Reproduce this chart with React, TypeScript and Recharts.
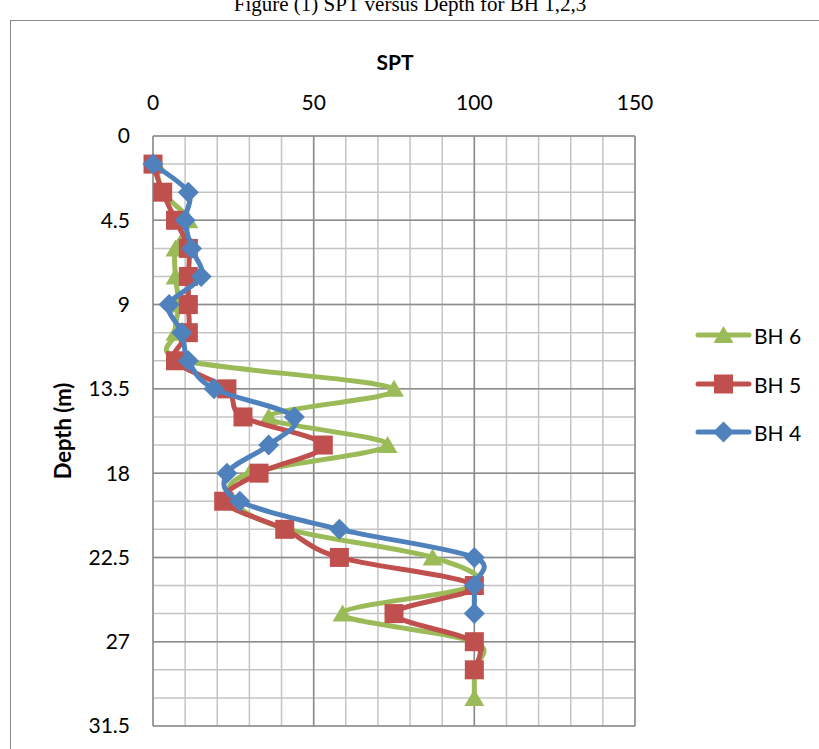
import React from "react";
import { ScatterChart, Scatter, XAxis, YAxis, CartesianGrid } from "recharts";

// depth (m) of each SPT reading
const depths = [1.5, 3, 4.5, 6, 7.5, 9, 10.5, 12, 13.5, 15, 16.5, 18, 19.5, 21, 22.5, 24, 25.5, 27, 28.5, 30];
const bh6 = [1, 3, 11, 7, 7, 8, 7, 10, 75, 36, 73, 30, 25, 42, 87, 100, 59, 100, 100, 100];
const bh5 = [0, 3, 7, 11, 11, 11, 11, 7, 23, 28, 53, 33, 22, 41, 58, 100, 75, 100, 100, null];
const bh4 = [0, 11, 10, 12, 15, 5, 9, 11, 19, 44, 36, 23, 27, 58, 100, 100, 100, null, null, null];

const sptTicks = [0, 50, 100, 150];
const depthTicks = [0, 4.5, 9, 13.5, 18, 22.5, 27, 31.5];
const sptMinor = [0, 10, 20, 30, 40, 50, 60, 70, 80, 90, 100, 110, 120, 130, 140, 150];
const depthMinor = [0, 1.5, 3, 4.5, 6, 7.5, 9, 10.5, 12, 13.5, 15, 16.5, 18, 19.5, 21, 22.5, 24, 25.5, 27, 28.5, 30, 31.5];

const GREEN = "#9BBB59";
const RED = "#C0504D";
const BLUE = "#4F81BD";
const FONT = "Lato, 'Open Sans', sans-serif";

const toRows = (vals: (number | null)[]) =>
  depths.map((d, i) => ({ depth: d, spt: vals[i] })).filter((r) => r.spt != null);

// excel style smoothed line (catmull-rom)
const excelCurve = (context: any) => {
  let pts: number[][] = [];
  return {
    areaStart() {},
    areaEnd() {},
    lineStart() {
      pts = [];
    },
    lineEnd() {
      if (!pts.length) return;
      context.moveTo(pts[0][0], pts[0][1]);
      for (let i = 0; i < pts.length - 1; i++) {
        const p0 = pts[Math.max(i - 1, 0)];
        const p1 = pts[i];
        const p2 = pts[i + 1];
        const p3 = pts[Math.min(i + 2, pts.length - 1)];
        context.bezierCurveTo(
          p1[0] + (p2[0] - p0[0]) / 6,
          p1[1] + (p2[1] - p0[1]) / 6,
          p2[0] - (p3[0] - p1[0]) / 6,
          p2[1] - (p3[1] - p1[1]) / 6,
          p2[0],
          p2[1]
        );
      }
    },
    point(x: number, y: number) {
      pts.push([+x, +y]);
    },
  };
};

const Triangle = ({ cx, cy }: any) => (
  <path d={`M${cx},${cy - 9}L${cx + 10},${cy + 8}L${cx - 10},${cy + 8}Z`} fill={GREEN} />
);
const Square = ({ cx, cy }: any) => <rect x={cx - 9.5} y={cy - 9.5} width={19} height={19} fill={RED} />;
const Diamond = ({ cx, cy }: any) => (
  <path d={`M${cx},${cy - 10.5}L${cx + 10.5},${cy}L${cx},${cy + 10.5}L${cx - 10.5},${cy}Z`} fill={BLUE} />
);

const legendItems = [
  { name: "BH 6", color: GREEN, Mark: Triangle, top: 323 },
  { name: "BH 5", color: RED, Mark: Square, top: 372 },
  { name: "BH 4", color: BLUE, Mark: Diamond, top: 420 },
];

export default function App() {
  return (
    <div style={{ position: "absolute", left: 0, top: 0, width: 819, height: 749, overflow: "hidden", background: "#fff" }}>
      <div
        style={{
          position: "absolute",
          left: 0,
          width: 820,
          top: -8,
          lineHeight: "24px",
          textAlign: "center",
          fontFamily: "'Liberation Serif', serif",
          fontSize: 21,
          whiteSpace: "nowrap",
        }}
      >
        Figure (1) SPT versus Depth for BH 1,2,3
      </div>
      <div
        style={{
          position: "absolute",
          left: 10,
          top: 20,
          width: 900,
          height: 800,
          borderLeft: "1.5px solid #8a8a8a",
          borderTop: "1.5px solid #8a8a8a",
        }}
      />
      <div style={{ position: "absolute", left: 0, top: 0 }}>
        <ScatterChart width={819} height={749} margin={{ top: 96, left: 93, right: 184, bottom: 23 }}>
          <CartesianGrid
            stroke="#c4c4c4"
            strokeWidth={1.5}
            verticalValues={sptMinor}
            horizontalValues={depthMinor}
          />
          <CartesianGrid
            stroke="#8c8c8c"
            strokeWidth={1.5}
            fill="none"
            verticalValues={sptTicks}
            horizontalValues={depthTicks}
          />
          <XAxis
            type="number"
            dataKey="spt"
            orientation="top"
            domain={[0, 150]}
            ticks={sptTicks}
            height={40}
            axisLine={false}
            tickLine={false}
            tickSize={6}
            tickMargin={20}
            tick={{ fontSize: 21, fill: "#000", fontFamily: FONT }}
          />
          <YAxis
            type="number"
            dataKey="depth"
            reversed
            domain={[0, 31.5]}
            ticks={depthTicks}
            width={60}
            axisLine={false}
            tickLine={false}
            tickSize={6}
            tickMargin={17}
            tick={{ fontSize: 21, fill: "#000", fontFamily: FONT }}
          />
          <Scatter
            data={toRows(bh6)}
            fill={GREEN}
            line={{ strokeWidth: 5, strokeLinejoin: "round", strokeLinecap: "round" }}
            lineJointType={excelCurve as any}
            shape={Triangle}
            isAnimationActive={false}
          />
          <Scatter
            data={toRows(bh5)}
            fill={RED}
            line={{ strokeWidth: 5, strokeLinejoin: "round", strokeLinecap: "round" }}
            lineJointType={excelCurve as any}
            shape={Square}
            isAnimationActive={false}
          />
          <Scatter
            data={toRows(bh4)}
            fill={BLUE}
            line={{ strokeWidth: 5, strokeLinejoin: "round", strokeLinecap: "round" }}
            lineJointType={excelCurve as any}
            shape={Diamond}
            isAnimationActive={false}
          />
        </ScatterChart>
      </div>
      <div
        style={{
          position: "absolute",
          left: 395,
          top: 49,
          transform: "translateX(-50%)",
          fontFamily: FONT,
          fontWeight: 700,
          fontSize: 21,
        }}
      >
        SPT
      </div>
      <div
        style={{
          position: "absolute",
          left: 62,
          top: 431,
          transform: "translate(-50%, -50%) rotate(-90deg)",
          fontFamily: FONT,
          fontWeight: 700,
          fontSize: 22,
          whiteSpace: "nowrap",
        }}
      >
        Depth (m)
      </div>
      {legendItems.map(({ name, color, Mark, top }) => (
        <div key={name} style={{ position: "absolute", left: 695, top, height: 24, display: "flex", alignItems: "center" }}>
          <svg width={57} height={24}>
            <line x1={3} y1={12} x2={54} y2={12} stroke={color} strokeWidth={5} strokeLinecap="round" />
            <Mark cx={28.5} cy={12} />
          </svg>
          <span style={{ fontFamily: FONT, fontSize: 21, marginLeft: 2 }}>{name}</span>
        </div>
      ))}
    </div>
  );
}
